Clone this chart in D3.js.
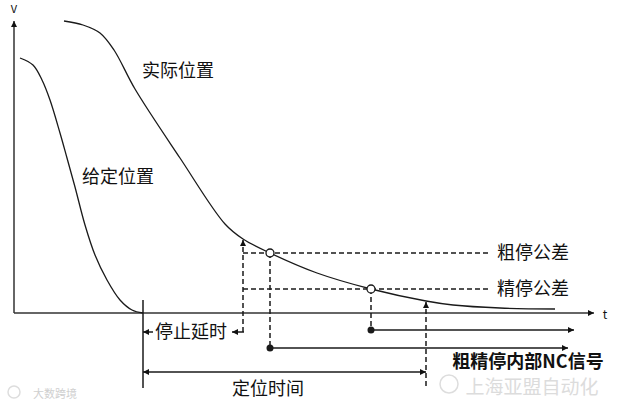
<!DOCTYPE html>
<html>
<head>
<meta charset="utf-8">
<script src="https://cdn.jsdelivr.net/npm/d3@7"></script>
<style>
  body { margin: 0; background: #fff; }
  text { font-family: "Noto Sans CJK SC", "Noto Sans", sans-serif; fill: #111; }
</style>
</head>
<body>
<script>
let width = 640;
let height = 406;

/* Curvas: tiempo t y velocidad V (unidades del dibujo) */
const givenCurve = [
  [6, 255], [19, 248], [28, 233], [36, 213], [46, 180], [53, 155], [61, 126],
  [71, 88], [81, 58], [93, 33], [106, 13], [118, 3], [129, 0]
];
const actualCurve = [
  [50, 292], [69, 288], [86, 280], [100, 263], [121, 224], [166, 155],
  [211, 89], [229, 74], [256, 60], [303, 40], [357, 24], [412, 12], [439, 8],
  [486, 5], [541, 4]
];

/* Tiempos característicos y tolerancias */
const tGivenEnd = 129;
const tStopDelay = 229;
const tCoarse = 256;
const tFine = 357;
const tPosition = 412;
const vCoarse = 60;
const vFine = 24;
const tToleranceEnd = 476;
const tAxisEnd = 580;
const vAxisEnd = 292;

const curveLabels = ["实际位置", "给定位置"];
const toleranceLabels = ["粗停公差", "精停公差"];
const otherLabels = ["停止延时", "定位时间", "粗精停内部NC信号"];

let escalaX = d3.scaleLinear().domain([0, 580]).range([14, 594]);
let escalaY = d3.scaleLinear().domain([0, 292]).range([313, 21]);

let svg = d3.select("body").append("svg")
  .attr("width", width)
  .attr("height", height);

/* Puntas de flecha */
let defs = svg.append("defs");
defs.append("marker")
  .attr("id", "flecha")
  .attr("viewBox", "0 0 10 10")
  .attr("refX", 10).attr("refY", 5)
  .attr("markerWidth", 9).attr("markerHeight", 6)
  .attr("markerUnits", "userSpaceOnUse")
  .attr("orient", "auto-start-reverse")
  .append("path")
  .attr("d", "M0,0 L10,5 L0,10 Z")
  .attr("fill", "#111");

const ink = "#1a1a1a";

/* Ejes */
svg.append("line")
  .attr("x1", escalaX(0)).attr("y1", escalaY(0))
  .attr("x2", escalaX(0)).attr("y2", escalaY(vAxisEnd))
  .attr("stroke", "#333").attr("stroke-width", 1.5)
  .attr("marker-end", "url(#flecha)");
svg.append("line")
  .attr("x1", escalaX(0)).attr("y1", escalaY(0))
  .attr("x2", escalaX(tAxisEnd)).attr("y2", escalaY(0))
  .attr("stroke", "#333").attr("stroke-width", 1.5)
  .attr("marker-end", "url(#flecha)");
svg.append("text").attr("x", escalaX(0)).attr("y", 13)
  .attr("text-anchor", "middle").style("font-size", "11px").text("V");
svg.append("text").attr("x", 605).attr("y", 319)
  .attr("text-anchor", "middle").style("font-size", "12px").text("t");

/* Curvas */
let linea = d3.line()
  .x(d => escalaX(d[0]))
  .y(d => escalaY(d[1]))
  .curve(d3.curveCatmullRom.alpha(0.5));

svg.append("path").attr("d", linea(givenCurve))
  .attr("fill", "none").attr("stroke", ink).attr("stroke-width", 1.3);
svg.append("path").attr("d", linea(actualCurve))
  .attr("fill", "none").attr("stroke", ink).attr("stroke-width", 1.3);

svg.append("text").attr("x", 142).attr("y", 77)
  .style("font-size", "18px").text(curveLabels[0]);
svg.append("text").attr("x", 82).attr("y", 183)
  .style("font-size", "18px").text(curveLabels[1]);

/* Tolerancias (discontinuas) */
const dash = "5,3";
[[vCoarse, toleranceLabels[0]], [vFine, toleranceLabels[1]]].forEach(function (d) {
  svg.append("line")
    .attr("x1", escalaX(tStopDelay)).attr("y1", escalaY(d[0]))
    .attr("x2", escalaX(tToleranceEnd)).attr("y2", escalaY(d[0]))
    .attr("stroke", ink).attr("stroke-width", 1.5).attr("stroke-dasharray", dash);
  svg.append("text").attr("x", 497).attr("y", escalaY(d[0]) + 6)
    .style("font-size", "18px").text(d[1]);
});

/* Verticales discontinuas */
function curveAt(t) {
  for (let i = 1; i < actualCurve.length; i++) {
    if (actualCurve[i][0] >= t) {
      let a = actualCurve[i - 1], b = actualCurve[i];
      return a[1] + (b[1] - a[1]) * (t - a[0]) / (b[0] - a[0]);
    }
  }
  return 0;
}
const yDelay = 332, yFineSig = 330, yCoarseSig = 348, yPos = 372;

// parada: flecha hacia la curva
svg.append("line")
  .attr("x1", escalaX(tStopDelay)).attr("y1", yDelay)
  .attr("x2", escalaX(tStopDelay)).attr("y2", escalaY(curveAt(tStopDelay)) + 1)
  .attr("stroke", ink).attr("stroke-width", 1.5).attr("stroke-dasharray", dash)
  .attr("marker-end", "url(#flecha)");
svg.append("line")
  .attr("x1", escalaX(tCoarse)).attr("y1", escalaY(vCoarse))
  .attr("x2", escalaX(tCoarse)).attr("y2", yCoarseSig)
  .attr("stroke", ink).attr("stroke-width", 1.5).attr("stroke-dasharray", dash);
svg.append("line")
  .attr("x1", escalaX(tFine)).attr("y1", escalaY(vFine))
  .attr("x2", escalaX(tFine)).attr("y2", yFineSig)
  .attr("stroke", ink).attr("stroke-width", 1.5).attr("stroke-dasharray", dash);
svg.append("line")
  .attr("x1", escalaX(tPosition)).attr("y1", 386)
  .attr("x2", escalaX(tPosition)).attr("y2", escalaY(curveAt(tPosition)) + 1)
  .attr("stroke", ink).attr("stroke-width", 1.5).attr("stroke-dasharray", dash)
  .attr("marker-end", "url(#flecha)");

/* Círculos en la curva */
[[tCoarse, vCoarse], [tFine, vFine]].forEach(function (d) {
  svg.append("circle")
    .attr("cx", escalaX(d[0])).attr("cy", escalaY(d[1])).attr("r", 4)
    .attr("fill", "#fff").attr("stroke", ink).attr("stroke-width", 1.3);
});

/* Línea vertical de inicio */
svg.append("line")
  .attr("x1", escalaX(tGivenEnd)).attr("y1", 300)
  .attr("x2", escalaX(tGivenEnd)).attr("y2", 388)
  .attr("stroke", ink).attr("stroke-width", 1.5);

/* Retardo de parada */
svg.append("line")
  .attr("x1", escalaX(tGivenEnd) + 10).attr("y1", yDelay)
  .attr("x2", escalaX(tGivenEnd)).attr("y2", yDelay)
  .attr("stroke", ink).attr("stroke-width", 1.5).attr("marker-end", "url(#flecha)");
svg.append("line")
  .attr("x1", escalaX(tStopDelay) + 1).attr("y1", yDelay)
  .attr("x2", escalaX(tStopDelay) - 11).attr("y2", yDelay)
  .attr("stroke", ink).attr("stroke-width", 1.5).attr("marker-end", "url(#flecha)");
svg.append("text").attr("x", 155).attr("y", yDelay + 6)
  .style("font-size", "18px").text(otherLabels[0]);

/* Señales NC */
svg.append("line")
  .attr("x1", escalaX(tFine)).attr("y1", yFineSig)
  .attr("x2", 574).attr("y2", yFineSig)
  .attr("stroke", ink).attr("stroke-width", 1.5).attr("marker-end", "url(#flecha)");
svg.append("line")
  .attr("x1", escalaX(tCoarse)).attr("y1", yCoarseSig)
  .attr("x2", 568).attr("y2", yCoarseSig)
  .attr("stroke", ink).attr("stroke-width", 1.5).attr("marker-end", "url(#flecha)");
[[tFine, yFineSig], [tCoarse, yCoarseSig]].forEach(function (d) {
  svg.append("circle")
    .attr("cx", escalaX(d[0])).attr("cy", d[1]).attr("r", 3.5).attr("fill", ink);
});

/* Tiempo de posicionamiento */
svg.append("line")
  .attr("x1", escalaX(tGivenEnd)).attr("y1", yPos)
  .attr("x2", escalaX(tPosition)).attr("y2", yPos)
  .attr("stroke", ink).attr("stroke-width", 1.5)
  .attr("marker-start", "url(#flecha)").attr("marker-end", "url(#flecha)");
svg.append("text").attr("x", 268).attr("y", 395)
  .attr("text-anchor", "middle").style("font-size", "18px").text(otherLabels[1]);

/* Marcas de agua */
svg.append("text").attr("x", 532).attr("y", 394)
  .attr("text-anchor", "middle").style("font-size", "19px")
  .style("fill", "#dcdcdc").text("上海亚盟自动化");
svg.append("text").attr("x", 33).attr("y", 398)
  .style("font-size", "11px").style("fill", "#cfcfcf").text("大数跨境");
svg.append("circle").attr("cx", 449).attr("cy", 384).attr("r", 9)
  .attr("fill", "none").attr("stroke", "#ddd").attr("stroke-width", 1.5);
svg.append("circle").attr("cx", 14).attr("cy", 392).attr("r", 6)
  .attr("fill", "none").attr("stroke", "#ddd").attr("stroke-width", 1.5);

svg.append("text").attr("x", 528).attr("y", 368)
  .attr("text-anchor", "middle").style("font-size", "18px").style("font-weight", "bold")
  .text(otherLabels[2]);
</script>
</body>
</html>
